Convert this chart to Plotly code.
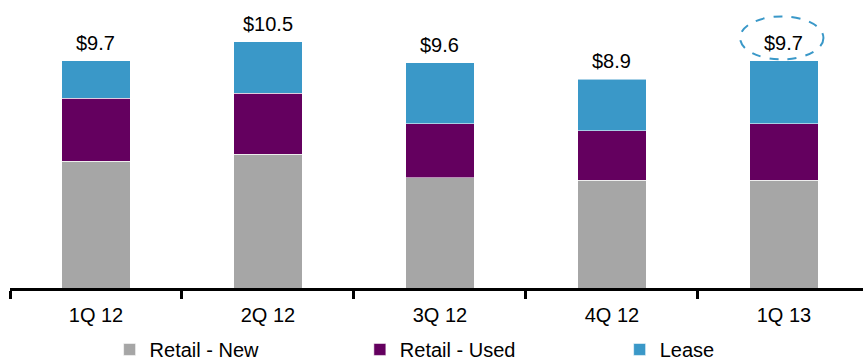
import plotly.graph_objects as go

# Quarterly originations ($B) split by product
quarters = ["1Q 12", "2Q 12", "3Q 12", "4Q 12", "1Q 13"]
retail_new = [5.4, 5.7, 4.7, 4.6, 4.6]
retail_used = [2.7, 2.6, 2.3, 2.1, 2.4]
lease = [1.6, 2.2, 2.6, 2.2, 2.7]
totals = [9.7, 10.5, 9.6, 8.9, 9.7]
total_labels = ["$9.7", "$10.5", "$9.6", "$8.9", "$9.7"]
highlight_index = 4

series = [
    ("Retail - New", retail_new, "#A6A6A6", "legend", 0.127),
    ("Retail - Used", retail_used, "#64005F", "legend2", 0.417),
    ("Lease", lease, "#3A98C8", "legend3", 0.718),
]
font_family = "Liberation Sans, Arial, sans-serif"
legend_font = dict(family=font_family, size=20, color="#000000")

fig = go.Figure()
for name, vals, color, leg, _ in series:
    fig.add_trace(go.Bar(
        x=quarters, y=vals, name=name, legend=leg,
        marker=dict(color=color, line=dict(color="rgba(255,255,255,0.55)", width=1)),
        width=0.4, hoverinfo="skip",
    ))

# Total labels above each stack
for q, t, lbl in zip(quarters, totals, total_labels):
    fig.add_annotation(
        x=q, y=t, text=lbl, showarrow=False, xref="x", yref="y",
        yanchor="bottom", yshift=5,
        font=dict(family=font_family, size=20, color="#000000"),
    )

# Dashed ellipse around the latest quarter's total
ht = totals[highlight_index]
fig.add_shape(
    type="circle", xref="x", yref="y",
    x0=highlight_index - 0.255, x1=highlight_index + 0.23,
    y0=ht + 0.05, y1=ht + 1.88,
    line=dict(color="#3A98C8", width=2, dash="dash"),
)

# One legend per series so each entry sits at its own spot along the bottom
legends = {}
for name, _, _, leg, lx in series:
    legends[leg] = dict(
        orientation="h", x=lx, xanchor="left", xref="container",
        y=0.04, yanchor="middle", yref="container",
        font=legend_font, itemwidth=30, bgcolor="rgba(0,0,0,0)",
        borderwidth=0,
    )

fig.update_layout(
    barmode="stack",
    width=863, height=364,
    margin=dict(l=10, r=0, t=0, b=76, autoexpand=False),
    paper_bgcolor="white", plot_bgcolor="white",
    font=dict(family=font_family, size=20, color="#000000"),
    showlegend=True,
    xaxis=dict(
        type="category", categoryorder="array", categoryarray=quarters,
        range=[-0.5, 4.46],
        showline=True, linecolor="#000000", linewidth=3,
        ticks="outside", tickson="boundaries", ticklen=8, tickwidth=3, tickcolor="#000000",
        ticklabelstandoff=7,
        tickfont=dict(family=font_family, size=20, color="#000000"),
        showgrid=False, zeroline=False, fixedrange=True,
    ),
    yaxis=dict(
        range=[0, 12.28], visible=False, showgrid=False, zeroline=False, fixedrange=True,
    ),
    **legends,
)

fig.write_html("out.html", config={"displayModeBar": False})
